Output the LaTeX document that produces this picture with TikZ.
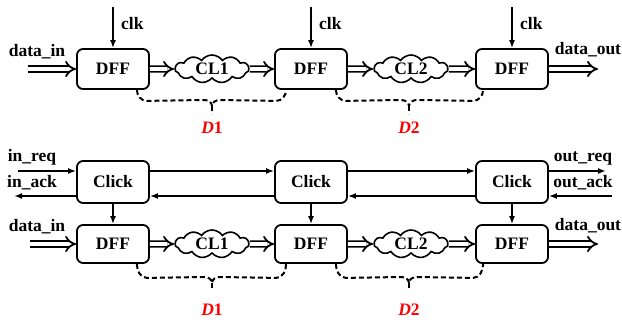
\documentclass[tikz,border=0pt]{standalone}
\usepackage{fontspec}
\setmainfont{Liberation Serif}
\usetikzlibrary{shapes.symbols,arrows.meta,calc}
\begin{document}
\begin{tikzpicture}[x=1pt,y=-1pt,
  font=\fontsize{17.5}{20}\selectfont\bfseries,
  blk/.style={draw, line width=1.8pt, rounded corners=6pt, minimum width=72pt, inner sep=0pt},
  dffbox/.style={blk, minimum height=40pt},
  dffbot/.style={blk, minimum height=38pt},
  clickbox/.style={blk, minimum height=42pt},
  cl/.style={cloud, draw, line width=1.6pt, cloud puffs=11, cloud puff arc=110, cloud ignores aspect, minimum width=74pt, minimum height=28pt, inner sep=0pt},
  bus/.style={double, double distance=3.6pt, line width=1.8pt, -{Implies[length=7pt]}},
  sig/.style={line width=1.6pt, -{Latex[length=8pt,width=6pt]}},
  brace/.style={line width=2pt, dash pattern=on 5pt off 3pt},
  lbl/.style={inner sep=0pt},
  dl/.style={text=red, inner sep=0pt}
]
\useasboundingbox (0,0) rectangle (622,320);

% ---------- top pipeline ----------
\node[dffbox] (ta) at (113,69) {DFF};
\node[dffbox] (tb) at (311,69) {DFF};
\node[dffbox] (tc) at (512,69) {DFF};
\node[cl] (tcl1) at (212,69) {};
\node[cl] (tcl2) at (411,69) {};
\node[lbl] (tcl1t) at (tcl1.center) {CL1};
\node[lbl] (tcl2t) at (tcl2.center) {CL2};

\coordinate (tin) at (28,69);
\coordinate (tout) at (598,69);
\node[lbl] (tdin) at (37,52) {data\_in};
\node[lbl] (tdout) at (588,50) {data\_out};

\coordinate (ck1) at (113,7);
\coordinate (ck2) at (311,7);
\coordinate (ck3) at (512,7);
\node[lbl,anchor=west] (tl1) at (121,24) {clk};
\node[lbl,anchor=west] (tl2) at (319,24) {clk};
\node[lbl,anchor=west] (tl3) at (520,24) {clk};

\draw[sig] (ck1) -- (ta.north);
\draw[sig] (ck2) -- (tb.north);
\draw[sig] (ck3) -- (tc.north);

\draw[bus] (tin) -- (ta.west);
\draw[bus] (ta.east) -- (tcl1.west);
\draw[bus] (tcl1.east) -- (tb.west);
\draw[bus] (tb.east) -- (tcl2.west);
\draw[bus] (tcl2.east) -- (tc.west);
\draw[bus] (tc.east) -- (tout);

\coordinate (tk1) at (212,106);
\coordinate (tk2) at (409,106);
\draw[brace] ([xshift=-13pt]ta.south east) to[out=-90,in=180] ([xshift=-3pt,yshift=-11pt]ta.south east)
  -- ($(tk1)+(-8,-6)$) to[out=0,in=90] (tk1) to[out=90,in=180] ($(tk1)+(8,-6)$)
  -- ([xshift=2pt,yshift=-11pt]tb.south west) to[out=0,in=-90] ([xshift=12pt]tb.south west);
\draw[brace] (tk1) -- ++(0,8);
\draw[brace] ([xshift=-12pt]tb.south east) to[out=-90,in=180] ([xshift=-2pt,yshift=-11pt]tb.south east)
  -- ($(tk2)+(-8,-6)$) to[out=0,in=90] (tk2) to[out=90,in=180] ($(tk2)+(8,-6)$)
  -- ([xshift=-2pt,yshift=-11pt]tc.south west) to[out=0,in=-90] ([xshift=8pt]tc.south west);
\draw[brace] (tk2) -- ++(0,8);
\node[dl] (td1) at (212,128) {\textit{D}1};
\node[dl] (td2) at (409,128) {\textit{D}2};

% ---------- bottom pipeline ----------
\node[clickbox] (ca) at (113,182) {Click};
\node[clickbox] (cb) at (311,182) {Click};
\node[clickbox] (cc) at (512,182) {Click};
\node[dffbot] (ba) at (113,244) {DFF};
\node[dffbot] (bb) at (311,244) {DFF};
\node[dffbot] (bc) at (512,244) {DFF};
\node[cl] (bcl1) at (212,244) {};
\node[cl] (bcl2) at (411,244) {};
\node[lbl] (bcl1t) at (bcl1.center) {CL1};
\node[lbl] (bcl2t) at (bcl2.center) {CL2};

\coordinate (ry) at (0,171);
\coordinate (ay) at (0,196);
\coordinate (reqin) at (18,171);
\coordinate (ackin) at (14,196);
\coordinate (reqout) at (606,171);
\coordinate (ackout) at (612,196);
\node[lbl] (lreq) at (32,157) {in\_req};
\node[lbl] (lack) at (32,183) {in\_ack};
\node[lbl] (loreq) at (583,158) {out\_req};
\node[lbl] (loack) at (583,183) {out\_ack};

\draw[sig] (reqin) -- (ca.west |- ry);
\draw[sig] (ca.west |- ay) -- (ackin);
\draw[sig] (ca.east |- ry) -- (cb.west |- ry);
\draw[sig] (cb.west |- ay) -- (ca.east |- ay);
\draw[sig] (cb.east |- ry) -- (cc.west |- ry);
\draw[sig] (cc.west |- ay) -- (cb.east |- ay);
\draw[sig] (cc.east |- ry) -- (reqout);
\draw[sig] (ackout) -- (cc.east |- ay);

\draw[sig] (ca.south) -- (ba.north);
\draw[sig] (cb.south) -- (bb.north);
\draw[sig] (cc.south) -- (bc.north);

\coordinate (bin) at (30,244);
\coordinate (bout) at (598,244);
\node[lbl] (bdin) at (37,227) {data\_in};
\node[lbl] (bdout) at (588,226) {data\_out};

\draw[bus] (bin) -- (ba.west);
\draw[bus] (ba.east) -- (bcl1.west);
\draw[bus] (bcl1.east) -- (bb.west);
\draw[bus] (bb.east) -- (bcl2.west);
\draw[bus] (bcl2.east) -- (bc.west);
\draw[bus] (bc.east) -- (bout);

\coordinate (bk1) at (212,283);
\coordinate (bk2) at (409,283);
\draw[brace] ([xshift=-13pt]ba.south east) to[out=-90,in=180] ([xshift=-3pt,yshift=-14pt]ba.south east)
  -- ($(bk1)+(-8,-6)$) to[out=0,in=90] (bk1) to[out=90,in=180] ($(bk1)+(8,-6)$)
  -- ([xshift=2pt,yshift=-14pt]bb.south west) to[out=0,in=-90] ([xshift=12pt]bb.south west);
\draw[brace] (bk1) -- ++(0,8);
\draw[brace] ([xshift=-12pt]bb.south east) to[out=-90,in=180] ([xshift=-2pt,yshift=-14pt]bb.south east)
  -- ($(bk2)+(-8,-6)$) to[out=0,in=90] (bk2) to[out=90,in=180] ($(bk2)+(8,-6)$)
  -- ([xshift=-2pt,yshift=-14pt]bc.south west) to[out=0,in=-90] ([xshift=8pt]bc.south west);
\draw[brace] (bk2) -- ++(0,8);
\node[dl] (bd1) at (212,310) {\textit{D}1};
\node[dl] (bd2) at (409,310) {\textit{D}2};
\end{tikzpicture}
\end{document}
